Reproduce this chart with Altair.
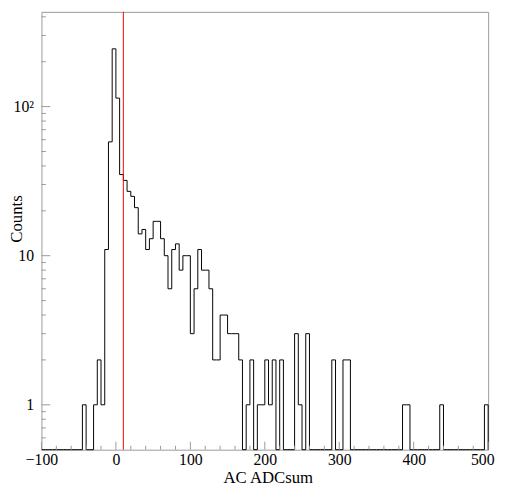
import altair as alt
import pandas as pd

# ---------------- data ----------------
X_MIN, X_MAX, BIN_W = -100, 500, 5
Y_MIN, Y_MAX = 0.5, 432          # log axis range shown in the frame
CUT_X = [10]                     # red vertical cut line

# counts per 5-unit bin, starting at -100
COUNTS = [
    0, 0, 0, 0, 0, 0, 0, 0, 0, 0,          # -100 .. -55
    0, 1, 0, 0, 1, 2, 1, 11, 58, 244,      # -50 .. -5
    114, 35, 32, 27, 25, 21, 14, 15, 11, 13,  # 0 .. 45
    17, 17, 13, 10, 6, 11, 12, 8, 10, 10,  # 50 .. 95
    3, 6, 11, 8, 8, 6, 2, 2, 4, 4,         # 100 .. 145
    3, 3, 3, 2, 0, 1, 2, 0, 1, 1,          # 150 .. 195
    2, 1, 2, 0, 2, 0, 0, 0, 3, 1,          # 200 .. 245
    0, 3, 0, 0, 0, 0, 0, 0, 2, 0,          # 250 .. 295
    0, 2, 2, 0, 0, 0, 0, 0, 0, 0,          # 300 .. 345
    0, 0, 0, 0, 0, 0, 0, 1, 1, 0,          # 350 .. 395
    0, 0, 0, 0, 0, 0, 0, 1, 0, 0,          # 400 .. 445
    0, 0, 0, 0, 0, 0, 0, 0, 0, 1,          # 450 .. 495
]

X_MAJOR = [-100, 0, 100, 200, 300, 400, 500]
X_MINOR = [v for v in range(-80, 500, 20) if v % 100 != 0]
Y_MAJOR = [1, 10, 100]
Y_MINOR = [0.6, 0.7, 0.8, 0.9, 2, 3, 4, 5, 6, 7, 8, 9,
           20, 30, 40, 50, 60, 70, 80, 90, 200, 300, 400]

# ---------------- layout ----------------
W, H = 454, 445
FONT = "Liberation Serif"
FRAME = "#999999"

# step outline of the histogram (empty bins drawn on the frame floor)
pts = [{"x": X_MIN, "y": Y_MIN, "o": -1}]
for i, c in enumerate(COUNTS):
    lo = X_MIN + i * BIN_W
    yv = c if c > 0 else Y_MIN
    pts.append({"x": lo, "y": yv, "o": 2 * i})
    pts.append({"x": lo + BIN_W, "y": yv, "o": 2 * i + 1})
pts.append({"x": X_MAX, "y": Y_MIN, "o": 2 * len(COUNTS) + 1})
hist_df = pd.DataFrame(pts)

xscale = alt.Scale(domain=[X_MIN, X_MAX], nice=False, zero=False)
yscale = alt.Scale(type="log", domain=[Y_MIN, Y_MAX], nice=False, clamp=True)

x_axis = alt.Axis(values=X_MAJOR, ticks=False, domain=False, grid=False,
                  labelFont=FONT, labelFontSize=16, labelColor="black",
                  labelPadding=15, labelBaseline="alphabetic",
                  labelFlush=False, labelOverlap=False, format="d",
                  labelOffset={"condition": {"test": f"datum.value == {X_MAX}", "value": -6},
                               "value": 0},
                  title="AC ADCsum", titleFont=FONT, titleFontSize=17,
                  titleFontWeight="normal", titleColor="black",
                  titleX=230, titleY=33, titleBaseline="alphabetic",
                  titleAlign="center")
y_axis = alt.Axis(values=Y_MAJOR, ticks=False, domain=False, grid=False,
                  labelExpr="datum.value >= 100 ? '10\u00b2' : format(datum.value, 'd')",
                  labelFont=FONT, labelFontSize=16, labelColor="black",
                  labelPadding=8, labelBaseline="middle",
                  labelFlush=False, labelOverlap=False,
                  title="Counts", titleFont=FONT, titleFontSize=17,
                  titleFontWeight="normal", titleColor="black",
                  titleAngle=270, titleX=-20, titleY=210,
                  titleBaseline="alphabetic", titleAlign="center")

hist = alt.Chart(hist_df).mark_line(color="black", strokeWidth=1, interpolate="linear").encode(
    x=alt.X("x:Q", scale=xscale, axis=x_axis),
    y=alt.Y("y:Q", scale=yscale, axis=y_axis),
    order="o:Q",
)

def xticks(vals, length):
    return alt.Chart(pd.DataFrame({"x": vals})).mark_rule(color=FRAME, strokeWidth=1).encode(
        x=alt.X("x:Q", scale=xscale, axis=x_axis),
        y=alt.value(H), y2=alt.value(H - length))

def yticks(vals, length):
    return alt.Chart(pd.DataFrame({"y": vals})).mark_rule(color=FRAME, strokeWidth=1).encode(
        y=alt.Y("y:Q", scale=yscale, axis=y_axis),
        x=alt.value(0), x2=alt.value(length))

cut = alt.Chart(pd.DataFrame({"x": CUT_X})).mark_rule(color="#ff0000", strokeWidth=1).encode(
    x=alt.X("x:Q", scale=xscale, axis=x_axis))

chart = alt.layer(
    hist,
    xticks(X_MAJOR, 8), xticks(X_MINOR, 4),
    yticks(Y_MAJOR, 9), yticks(Y_MINOR, 4.5),
    cut,
).properties(
    width=W, height=H,
    background="white",
    autosize=alt.AutoSizeParams(type="none"),
    padding={"left": 34, "top": 0, "right": 9, "bottom": 33},
).configure_view(
    stroke=FRAME, strokeWidth=1
)

chart.save("out.html", embed_options={"renderer": "svg", "actions": False})
